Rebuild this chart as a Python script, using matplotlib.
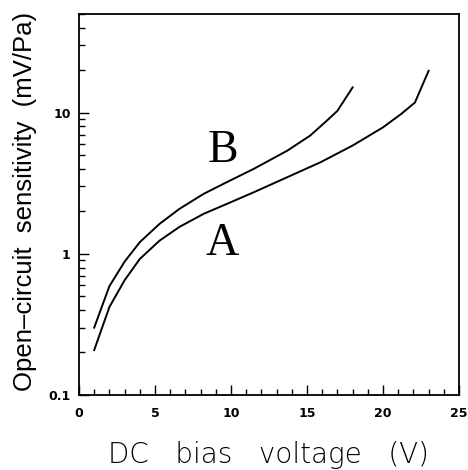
import numpy as np
import matplotlib
matplotlib.use("Agg")
import matplotlib.pyplot as plt
from matplotlib.ticker import FixedLocator, LogLocator, NullFormatter

# bias voltage (V) and open-circuit sensitivity (mV/Pa)
volt_a = [1, 2, 3, 4, 5.3, 6.6, 8.2, 9.9, 11.5, 13.7, 15.9, 18, 20, 21.2, 22.1, 23]
sens_a = [0.208, 0.42, 0.65, 0.92, 1.24, 1.55, 1.92, 2.3, 2.73, 3.49, 4.46, 5.85,
          7.87, 9.8, 11.8, 19.8]

volt_b = [1, 2, 3, 4, 5.3, 6.6, 8.2, 9.8, 11.5, 13.7, 15.2, 16.3, 17, 18]
sens_b = [0.30, 0.59, 0.88, 1.21, 1.63, 2.08, 2.66, 3.25, 4.0, 5.38, 6.87, 8.77,
          10.3, 15.1]

fig = plt.figure(figsize=(4.68, 4.70), dpi=100)
ax = fig.add_axes([0.1688, 0.1596, 0.812, 0.8106])

ax.plot(volt_a, sens_a, color="black", lw=1.4)
ax.plot(volt_b, sens_b, color="black", lw=1.4)

ax.text(9.4, 1.18, "A", family="Liberation Serif", fontsize=33, ha="center", va="center")
ax.text(9.45, 5.4, "B", family="Liberation Serif", fontsize=33, ha="center", va="center")

ax.set_yscale("log")
ax.set_xlim(0, 25)
ax.set_ylim(0.1, 50)

ax.xaxis.set_major_locator(FixedLocator([0, 5, 10, 15, 20, 25]))
ax.xaxis.set_minor_locator(FixedLocator(np.arange(0, 26, 1)))
ax.yaxis.set_major_locator(FixedLocator([0.1, 1, 10]))
ax.yaxis.set_minor_locator(LogLocator(base=10, subs=np.arange(2, 10)))
ax.yaxis.set_minor_formatter(NullFormatter())
ax.set_yticklabels(["0.1", "1", "10"])

ax.tick_params(which="both", direction="in", top=False, right=False,
               labelsize=9, width=1)
ax.tick_params(which="major", length=7)
ax.tick_params(which="minor", length=4)
ax.tick_params(axis="x", which="major", pad=9)
ax.tick_params(axis="y", which="major", pad=6)
for lbl in ax.get_xticklabels() + ax.get_yticklabels():
    lbl.set_fontweight("bold")
for s in ax.spines.values():
    s.set_linewidth(1.3)

fig.text(0.573, 0.015, "DC   bias   voltage   (V)", fontsize=20, weight="light",
         ha="center", va="baseline")
fig.text(0.053, 0.571, "Open\u2013circuit  sensitivity  (mV/Pa)", fontsize=18.5,
         family="Liberation Sans", rotation=90, ha="center", va="center")

fig.savefig("out.png", dpi=100)
